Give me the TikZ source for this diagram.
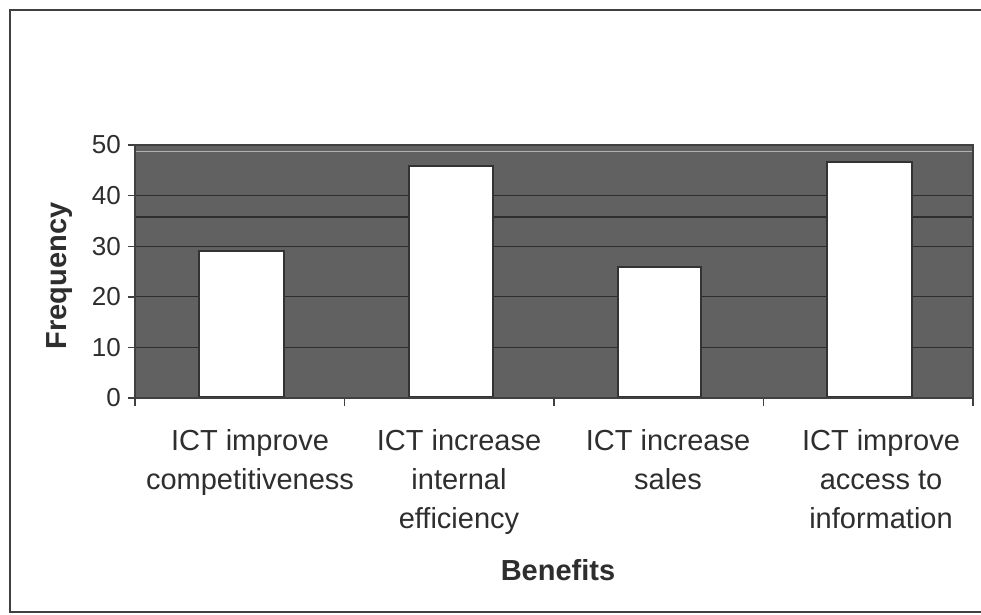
\documentclass[tikz,border=0pt]{standalone}
\usepackage{fontspec}
\setmainfont{Liberation Sans}
\begin{document}
\begin{tikzpicture}[x=1pt,y=-1pt,
  txt/.style={text=black!82, inner sep=0pt},
  cat/.style={txt, font=\fontsize{29}{39}\selectfont, align=center, anchor=north},
  tick/.style={txt, font=\fontsize{26}{30}\selectfont, anchor=east},
  ttl/.style={txt, font=\fontsize{29}{34}\selectfont\bfseries},
  grid/.style={draw=black!82, line width=1.2pt},
  bar/.style={draw=black!80, line width=2pt, fill=white!97!blue!3},
  axis/.style={draw=black!75, line width=1.4pt}]
\useasboundingbox (0,0) rectangle (981,614);
\fill[white!98!blue!2] (0,0) rectangle (981,614);
% outer frame
\draw[black!75, line width=1.6pt] (1000,10) -- (10,10) -- (10,612) -- (1000,612);
% plot area
\fill[black!62] (135,145) rectangle (973,398);
\draw[white!70!black, line width=0.8pt] (135,151) -- (973,151);
\foreach \yy in {195.6,217,246.2,296.8,347.4} \draw[grid] (135,\yy) -- (973,\yy);
\draw[black!75, line width=1.2pt] (135,145) -- (973,145) -- (973,398);
% bars
\node[bar, minimum width=85pt, minimum height=146pt, anchor=south west, inner sep=0pt] (b1) at (198,398) {};
\node[bar, minimum width=84pt, minimum height=231pt, anchor=south west, inner sep=0pt] (b2) at (408,398) {};
\node[bar, minimum width=83pt, minimum height=130pt, anchor=south west, inner sep=0pt] (b3) at (617,398) {};
\node[bar, minimum width=85pt, minimum height=235pt, anchor=south west, inner sep=0pt] (b4) at (826,398) {};
% axes
\draw[axis] (135,145) -- (135,398) -- (973,398);
\foreach \yy in {145,195.6,246.2,296.8,347.4,398} \draw[axis] (128,\yy) -- (135,\yy);
\foreach \xx in {135,344.5,554,763.5,973} \draw[axis] (\xx,398) -- (\xx,406);
% tick labels
\node[tick] (t50) at (121,145) {50};
\node[tick] (t40) at (121,195.6) {40};
\node[tick] (t30) at (121,246.2) {30};
\node[tick] (t20) at (121,296.8) {20};
\node[tick] (t10) at (121,347.4) {10};
\node[tick] (t0) at (121,398) {0};
% category labels
\node[cat] (c1) at (250,429) {ICT improve\\competitiveness};
\node[cat] (c2) at (459,429) {ICT increase\\internal\\efficiency};
\node[cat] (c3) at (668,429) {ICT increase\\sales};
\node[cat] (c4) at (881,429) {ICT improve\\access to\\information};
% axis titles
\node[ttl, rotate=90] (fy) at (60,276) {Frequency};
\node[ttl] (fx) at (558,570) {Benefits};
\end{tikzpicture}
\end{document}
